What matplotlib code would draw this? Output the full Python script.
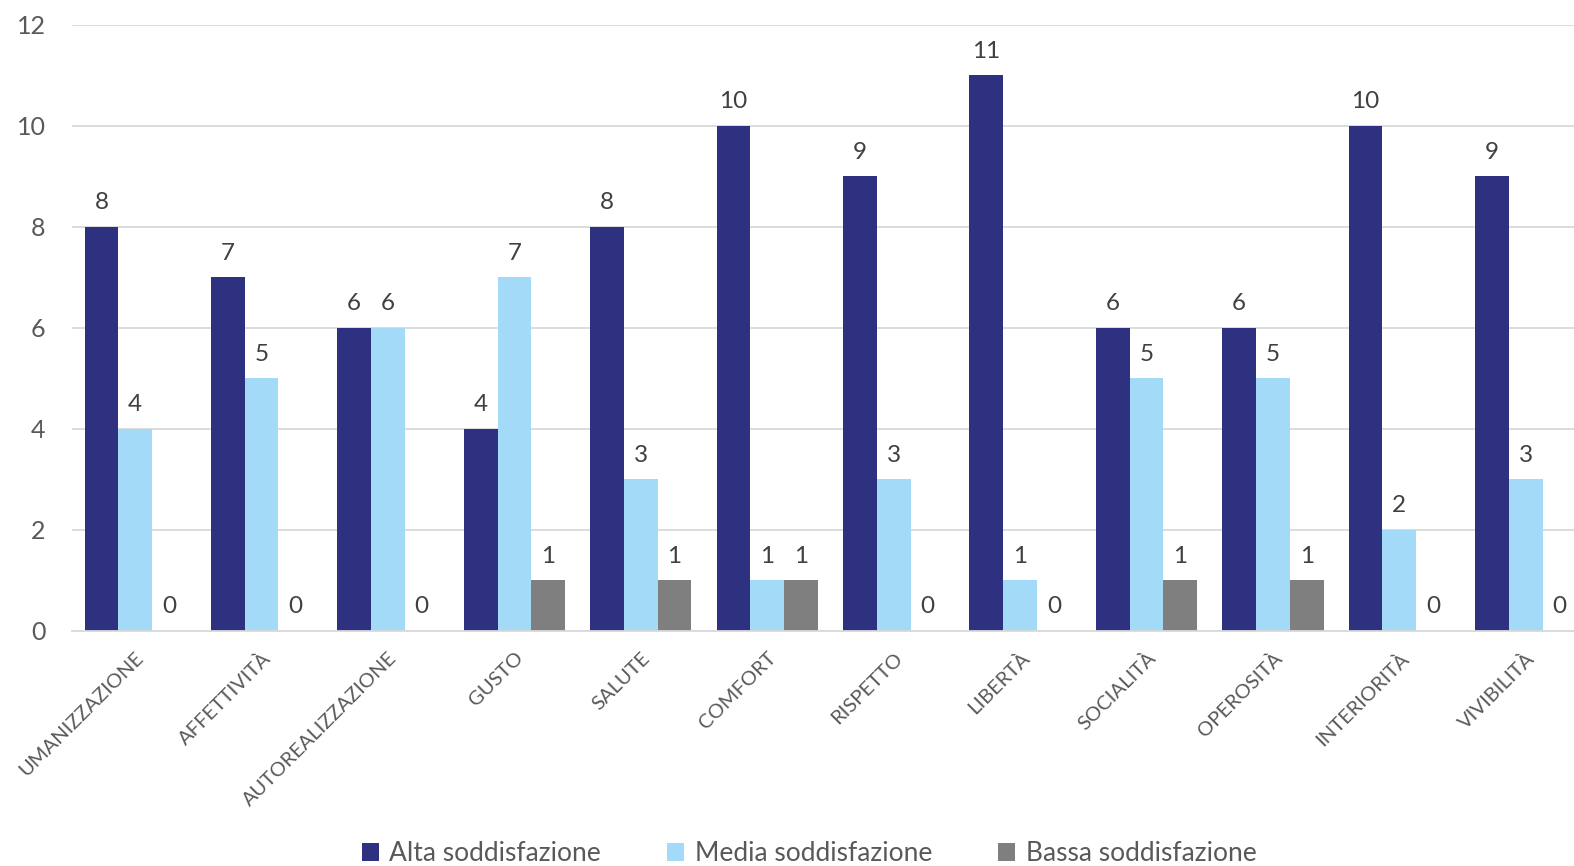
import numpy as np
import matplotlib
matplotlib.use("Agg")
from matplotlib import pyplot as plt

plt.rcParams['font.family'] = ['Lato', 'DejaVu Sans']

# categories and series values
categories = ["UMANIZZAZIONE", "AFFETTIVITÀ", "AUTOREALIZZAZIONE", "GUSTO", "SALUTE",
              "COMFORT", "RISPETTO", "LIBERTÀ", "SOCIALITÀ", "OPEROSITÀ",
              "INTERIORITÀ", "VIVIBILITÀ"]
alta = [8, 7, 6, 4, 8, 10, 9, 11, 6, 6, 10, 9]
media = [4, 5, 6, 7, 3, 1, 3, 1, 5, 5, 2, 3]
bassa = [0, 0, 0, 1, 1, 1, 0, 0, 1, 1, 0, 0]
series_names = ["Alta soddisfazione", "Media soddisfazione", "Bassa soddisfazione"]
colors = ["#2E3080", "#A3DAF7", "#7F7F7F"]

fig = plt.figure(figsize=(15.74, 8.66), dpi=100)
ax = fig.add_axes([0.0457, 0.2714, 0.9638, 0.6998])

x = np.arange(len(categories))
w = 0.267
bars = []
for k, (vals, name, c) in enumerate(zip([alta, media, bassa], series_names, colors)):
    b = ax.bar(x + (k - 1) * w, vals, w, color=c, label=name)
    ax.bar_label(b, padding=10, fontsize=17.5, color="#404040")
    bars.append(b)

ax.set_xlim(-0.5, len(categories) - 0.5)
ax.set_ylim(0, 12)
ax.set_yticks(range(0, 13, 2))
ax.yaxis.grid(True, color="#D9D9D9", linewidth=1.3)
ax.set_axisbelow(True)
for s in ["top", "right", "left"]:
    ax.spines[s].set_visible(False)
ax.spines["bottom"].set_color("#D9D9D9")
ax.spines["bottom"].set_linewidth(1.3)
ax.tick_params(axis="both", length=0, colors="#595959")
ax.tick_params(axis="y", labelsize=18, pad=19)
ax.set_xticks(x)
ax.set_xticklabels(categories, rotation=45, ha="right", rotation_mode="anchor",
                   fontsize=14.5, color="#595959")
ax.tick_params(axis="x", pad=13)

fig.legend(handles=bars, labels=series_names, loc="lower center",
           bbox_to_anchor=(0.514, -0.028), ncol=3, frameon=False,
           fontsize=19, handlelength=0.65, handleheight=0.65,
           columnspacing=2.5, handletextpad=0.4, labelcolor="#595959")

fig.savefig("out.png", dpi=100)
